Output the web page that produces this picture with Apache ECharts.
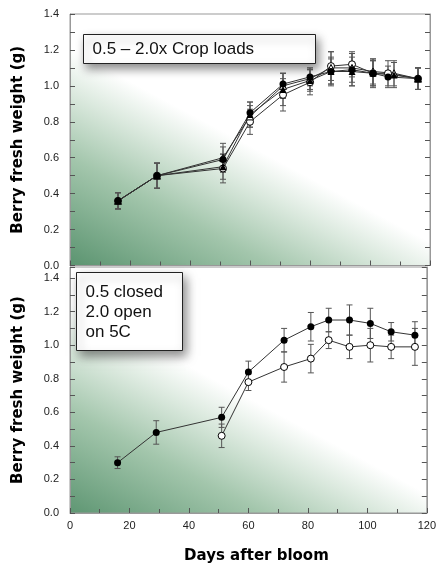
<!DOCTYPE html>
<html>
<head>
<meta charset="utf-8">
<script src="https://cdn.jsdelivr.net/npm/echarts@6/dist/echarts.min.js"></script>
<style>html,body{margin:0;padding:0;background:#fff}#c{width:439px;height:565px}</style>
</head>
<body>
<div id="c"></div>
<script>
// ---- data ----
const xTicks = [0, 20, 40, 60, 80, 100, 120];
const yTicks = [0.0, 0.2, 0.4, 0.6, 0.8, 1.0, 1.2, 1.4];

const topDaysA = [16, 29, 51, 60, 71, 80, 87, 94, 101, 106, 116];
const topDaysB = [16, 29, 51, 60, 71, 80, 87, 94, 101, 108, 116];
const top05 = [0.36, 0.50, 0.59, 0.85, 1.01, 1.05, 1.08, 1.09, 1.07, 1.05, 1.04];
const top05Err = [0.045, 0.07, 0.07, 0.06, 0.06, 0.05, 0.08, 0.09, 0.07, 0.06, 0.06];
const top10 = [0.36, 0.50, 0.55, 0.84, 0.98, 1.03, 1.08, 1.08, 1.07, 1.06, 1.04];
const top10Err = [0.045, 0.07, 0.07, 0.07, 0.09, 0.06, 0.07, 0.08, 0.07, 0.07, 0.06];
const top15 = [0.36, 0.50, 0.54, 0.80, 0.95, 1.02, 1.11, 1.12, 1.07, 1.07, 1.04];
const top15Err = [0.045, 0.07, 0.08, 0.07, 0.09, 0.07, 0.08, 0.07, 0.08, 0.07, 0.06];
const top20 = [0.36, 0.50, 0.60, 0.83, 1.00, 1.04, 1.10, 1.10, 1.08, 1.07, 1.04];
const top20Err = [0.045, 0.07, 0.08, 0.06, 0.07, 0.06, 0.09, 0.08, 0.07, 0.07, 0.06];

const closedDays = [16, 29, 51, 60, 72, 81, 87, 94, 101, 108, 116];
const closedVals = [0.30, 0.48, 0.57, 0.84, 1.03, 1.11, 1.15, 1.15, 1.13, 1.08, 1.06];
const closedErr = [0.035, 0.07, 0.06, 0.065, 0.07, 0.085, 0.07, 0.09, 0.09, 0.055, 0.08];
const openDays = [51, 60, 72, 81, 87, 94, 101, 108, 116];
const openVals = [0.46, 0.78, 0.87, 0.92, 1.03, 0.99, 1.00, 0.99, 0.99];
const openErr = [0.07, 0.05, 0.09, 0.085, 0.05, 0.07, 0.10, 0.07, 0.11];

const topLabel = '0.5 – 2.0x Crop loads';
const botLabel = '0.5 closed\n2.0 open\non 5C';
const yName = 'Berry fresh weight (g)';
const xName = 'Days after bloom';

// ---- chart ----
const chart = echarts.init(document.getElementById('c'), null, {renderer: 'canvas'});
const FONT = '"Liberation Sans", Arial, sans-serif';
const BOLD = '"DejaVu Sans", sans-serif';

const GL = 70, GW = 360, GH = 251.5, T1 = 14, T2 = 267;

function bg(top) {
  const by = top + GH;
  return new echarts.graphic.LinearGradient(GL, by, GL + 90, by - 168, [
    {offset: 0, color: '#5b9470'},
    {offset: 0.5, color: '#a3c6ac'},
    {offset: 0.8, color: '#dbe9de'},
    {offset: 1, color: '#ffffff'}
  ], true);
}

function pairs(days, vals) { return days.map((d, i) => [d, vals[i]]); }

function errSeries(ai, days, vals, errs) {
  return {
    type: 'custom', xAxisIndex: ai, yAxisIndex: ai * 2, silent: true, z: 2,
    data: days.map((d, i) => [d, vals[i] - errs[i], vals[i] + errs[i]]),
    encode: {x: 0, y: [1, 2]},
    renderItem: function (params, api) {
      const x = api.value(0);
      const lo = api.coord([x, api.value(1)]);
      const hi = api.coord([x, api.value(2)]);
      const w = 3;
      const st = {stroke: '#555', lineWidth: 1};
      return {type: 'group', children: [
        {type: 'line', shape: {x1: lo[0], y1: lo[1], x2: hi[0], y2: hi[1]}, style: st},
        {type: 'line', shape: {x1: lo[0] - w, y1: lo[1], x2: lo[0] + w, y2: lo[1]}, style: st},
        {type: 'line', shape: {x1: hi[0] - w, y1: hi[1], x2: hi[0] + w, y2: hi[1]}, style: st}
      ]};
    }
  };
}

function lineSeries(ai, days, vals, symbol, open) {
  return {
    type: 'line', xAxisIndex: ai, yAxisIndex: ai * 2, z: 4,
    data: pairs(days, vals), symbol: symbol, symbolSize: 7,
    showSymbol: true, animation: false,
    lineStyle: {color: '#333', width: 1},
    itemStyle: open ? {color: '#fff', borderColor: '#000', borderWidth: 1} : {color: '#000', borderColor: '#000', borderWidth: 0}
  };
}

function xAxis(gi, showLabels) {
  return {
    type: 'value', gridIndex: gi, min: 0, max: 120, interval: 20,
    name: showLabels ? xName : '', nameLocation: 'middle', nameGap: 36,
    nameTextStyle: {fontFamily: BOLD, fontWeight: 'bold', fontSize: 15, color: '#000', padding: [0, 0, 0, 16]},
    axisLine: {show: true, lineStyle: {color: '#999'}},
    axisTick: {show: true, inside: true, length: 5, lineStyle: {color: '#555'}},
    minorTick: {show: true, splitNumber: 2, length: 4, lineStyle: {color: '#555'}},
    splitLine: {show: false},
    axisLabel: {show: showLabels, fontFamily: FONT, fontSize: 11, color: '#222', margin: 7,
      showMaxLabel: true, formatter: v => (xTicks.indexOf(v) >= 0 ? String(v) : '')}
  };
}

function yAxes(gi, max) {
  const common = {
    type: 'value', gridIndex: gi, min: 0, max: max, interval: 0.2,
    axisLine: {show: true, lineStyle: {color: '#999'}},
    axisTick: {show: true, inside: true, length: 5, lineStyle: {color: '#555'}},
    minorTick: {show: true, splitNumber: 2, length: 5, lineStyle: {color: '#555'}},
    splitLine: {show: false}
  };
  return [
    Object.assign({}, common, {
      position: 'left', name: yName, nameLocation: 'middle', nameGap: 44,
      nameTextStyle: {fontFamily: BOLD, fontWeight: 'bold', fontSize: 15, color: '#000'},
      axisLabel: {fontFamily: FONT, fontSize: 11, color: '#222', margin: 11,
        formatter: v => (yTicks.some(t => Math.abs(t - v) < 1e-6) ? v.toFixed(1) : '')}
    }),
    Object.assign({}, common, {position: 'right', axisLabel: {show: false}})
  ];
}

const option = {
  animation: false,
  backgroundColor: '#fff',
  grid: [
    {left: GL, top: T1, width: GW, height: GH, show: true, borderColor: '#999', borderWidth: 1, backgroundColor: bg(T1)},
    {left: GL, top: T2, width: GW, height: GH, show: true, borderColor: '#999', borderWidth: 1, backgroundColor: bg(T2)}
  ],
  xAxis: [xAxis(0, false), xAxis(1, true)],
  yAxis: [].concat(yAxes(0, 1.4), yAxes(1, 1.466)),
  series: [
    errSeries(0, topDaysA, top05, top05Err),
    errSeries(0, topDaysB, top10, top10Err),
    errSeries(0, topDaysA, top15, top15Err),
    errSeries(0, topDaysB, top20, top20Err),
    lineSeries(0, topDaysA, top15, 'circle', true),
    lineSeries(0, topDaysB, top20, 'triangle', true),
    lineSeries(0, topDaysB, top10, 'triangle', false),
    lineSeries(0, topDaysA, top05, 'circle', false),
    errSeries(1, closedDays, closedVals, closedErr),
    errSeries(1, openDays, openVals, openErr),
    lineSeries(1, openDays, openVals, 'circle', true),
    lineSeries(1, closedDays, closedVals, 'circle', false)
  ],
  graphic: [
    {type: 'group', left: 83, top: 34, z: 100, children: [
      {type: 'rect', shape: {x: 0, y: 0, width: 232, height: 29},
        style: {fill: '#fff', stroke: '#222', lineWidth: 1, shadowBlur: 10, shadowColor: 'rgba(0,0,0,0.45)', shadowOffsetX: 3, shadowOffsetY: 5}},
      {type: 'text', x: 9, y: 15, style: {text: topLabel, font: '17px ' + FONT, fill: '#111', verticalAlign: 'middle'}}
    ]},
    {type: 'group', left: 76, top: 272, z: 100, children: [
      {type: 'rect', shape: {x: 0, y: 0, width: 106, height: 78},
        style: {fill: '#fff', stroke: '#222', lineWidth: 1, shadowBlur: 10, shadowColor: 'rgba(0,0,0,0.45)', shadowOffsetX: 3, shadowOffsetY: 5}},
      {type: 'text', x: 9, y: 10, style: {text: botLabel, font: '17px ' + FONT, lineHeight: 20, fill: '#111', verticalAlign: 'top'}}
    ]}
  ]
};
chart.setOption(option);
</script>
</body>
</html>
